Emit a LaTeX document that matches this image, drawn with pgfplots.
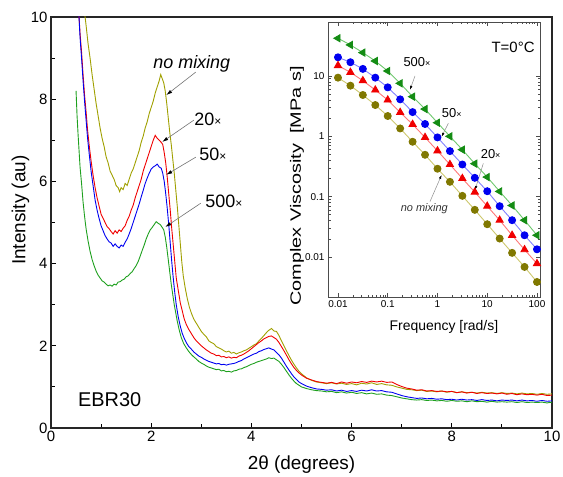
\documentclass[border=0pt]{standalone}
\usepackage{pgfplots}
\pgfplotsset{compat=1.18}
\usepackage{pgfplotstable}
\usepackage{graphicx}
\usepackage{fontspec}
\setmainfont{Liberation Sans}
\usetikzlibrary{arrows.meta}
\definecolor{cOl}{RGB}{160,160,0}
\definecolor{cRe}{RGB}{240,0,0}
\definecolor{cBl}{RGB}{0,0,240}
\definecolor{cGr}{RGB}{30,160,30}
\definecolor{lGr}{RGB}{110,200,110}
\definecolor{lBl}{RGB}{130,130,255}
\definecolor{lRe}{RGB}{255,120,120}
\definecolor{lOl}{RGB}{205,200,110}
\definecolor{mGr}{RGB}{20,140,20}
\definecolor{mOl}{RGB}{128,120,0}
\pgfplotstableread[row sep=\\]{x y\\
0.66 10.2\\ 0.70 9.8\\ 0.74 9.35\\ 0.78 9.0\\ 0.82 8.6\\ 0.86 8.25\\ 0.90 7.9\\ 0.94 7.6\\ 0.98 7.3\\ 1.02 7.05\\
1.06 6.85\\ 1.10 6.6\\ 1.14 6.45\\ 1.18 6.25\\ 1.22 6.15\\ 1.26 6.05\\ 1.30 5.9\\ 1.34 5.85\\ 1.37 5.75\\ 1.40 5.85\\
1.44 5.8\\ 1.48 5.95\\ 1.52 5.9\\ 1.56 6.05\\ 1.60 6.2\\ 1.64 6.3\\ 1.68 6.45\\ 1.72 6.6\\ 1.76 6.75\\ 1.80 6.95\\
1.84 7.1\\ 1.88 7.3\\ 1.92 7.45\\ 1.96 7.65\\ 2.00 7.8\\ 2.04 7.95\\ 2.08 8.15\\ 2.12 8.3\\ 2.16 8.45\\ 2.19 8.6\\
2.22 8.5\\ 2.25 8.4\\ 2.28 8.2\\ 2.31 7.9\\ 2.34 7.55\\ 2.37 7.2\\ 2.40 6.9\\ 2.43 6.55\\ 2.46 6.2\\ 2.49 5.8\\
2.52 5.4\\ 2.55 4.95\\ 2.58 4.5\\ 2.61 4.05\\ 2.64 3.7\\ 2.68 3.4\\ 2.72 3.15\\ 2.76 2.95\\ 2.80 2.8\\ 2.85 2.65\\
2.90 2.55\\ 2.95 2.45\\ 3.00 2.35\\ 3.05 2.28\\ 3.10 2.22\\ 3.15 2.12\\ 3.20 2.08\\ 3.25 2.05\\ 3.30 1.98\\ 3.35 1.95\\
3.40 1.92\\ 3.45 1.88\\ 3.50 1.85\\ 3.55 1.87\\ 3.60 1.82\\ 3.65 1.84\\ 3.70 1.80\\ 3.75 1.83\\ 3.80 1.85\\ 3.85 1.88\\
3.90 1.90\\ 3.95 1.94\\ 4.00 1.98\\ 4.05 2.02\\ 4.10 2.05\\ 4.15 2.12\\ 4.20 2.18\\ 4.25 2.25\\ 4.30 2.32\\ 4.35 2.38\\
4.40 2.42\\ 4.45 2.36\\ 4.50 2.35\\ 4.55 2.25\\ 4.60 2.12\\ 4.65 2.00\\ 4.70 1.88\\ 4.75 1.76\\ 4.80 1.65\\ 4.85 1.55\\
4.90 1.46\\ 4.95 1.38\\ 5.00 1.32\\ 5.10 1.22\\ 5.20 1.16\\ 5.30 1.12\\ 5.40 1.10\\ 5.50 1.08\\ 5.60 1.10\\ 5.70 1.07\\
5.80 1.09\\ 5.90 1.06\\ 6.00 1.08\\ 6.10 1.05\\ 6.20 1.09\\ 6.30 1.07\\ 6.40 1.10\\ 6.50 1.06\\ 6.60 1.08\\ 6.70 1.05\\
6.80 1.04\\ 6.90 1.00\\ 7.00 0.97\\ 7.10 0.94\\ 7.20 0.93\\ 7.30 0.91\\ 7.40 0.92\\ 7.50 0.89\\ 7.60 0.90\\ 7.70 0.88\\
7.80 0.90\\ 7.90 0.87\\ 8.00 0.89\\ 8.10 0.86\\ 8.20 0.88\\ 8.30 0.86\\ 8.40 0.87\\ 8.50 0.85\\ 8.60 0.87\\ 8.70 0.85\\
8.80 0.86\\ 8.90 0.84\\ 9.00 0.86\\ 9.10 0.84\\ 9.20 0.85\\ 9.30 0.83\\ 9.40 0.85\\ 9.50 0.83\\ 9.60 0.84\\ 9.70 0.82\\
9.80 0.84\\ 9.90 0.82\\ 10.0 0.83\\
}\olivedata
\pgfplotstableread[row sep=\\]{x y\\
0.55 10.2\\ 0.58 9.6\\ 0.61 9.15\\ 0.64 8.6\\ 0.67 8.1\\ 0.70 7.7\\ 0.73 7.25\\ 0.76 6.9\\ 0.80 6.5\\ 0.84 6.15\\
0.88 5.85\\ 0.92 5.6\\ 0.96 5.4\\ 1.00 5.2\\ 1.04 5.1\\ 1.08 5.0\\ 1.12 4.9\\ 1.16 4.85\\ 1.20 4.78\\ 1.24 4.72\\
1.28 4.8\\ 1.32 4.74\\ 1.36 4.82\\ 1.40 4.78\\ 1.44 4.86\\ 1.48 4.92\\ 1.52 5.05\\ 1.56 5.15\\ 1.60 5.3\\ 1.64 5.42\\
1.68 5.6\\ 1.72 5.75\\ 1.76 5.9\\ 1.80 6.05\\ 1.84 6.25\\ 1.88 6.4\\ 1.92 6.55\\ 1.96 6.7\\ 2.00 6.85\\ 2.04 7.0\\
2.08 7.12\\ 2.12 7.05\\ 2.16 7.0\\ 2.20 6.95\\ 2.23 6.9\\ 2.26 6.7\\ 2.29 6.45\\ 2.32 6.1\\ 2.35 5.7\\ 2.38 5.3\\
2.41 4.85\\ 2.44 4.45\\ 2.47 4.05\\ 2.50 3.65\\ 2.54 3.35\\ 2.58 3.05\\ 2.62 2.85\\ 2.66 2.65\\ 2.70 2.52\\ 2.75 2.40\\
2.80 2.30\\ 2.85 2.20\\ 2.90 2.12\\ 2.95 2.06\\ 3.00 2.00\\ 3.05 1.95\\ 3.10 1.90\\ 3.15 1.86\\ 3.20 1.82\\ 3.25 1.80\\
3.30 1.76\\ 3.35 1.77\\ 3.40 1.73\\ 3.45 1.74\\ 3.50 1.71\\ 3.55 1.73\\ 3.60 1.70\\ 3.65 1.72\\ 3.70 1.71\\ 3.75 1.75\\
3.80 1.77\\ 3.85 1.80\\ 3.90 1.84\\ 3.95 1.88\\ 4.00 1.93\\ 4.05 1.98\\ 4.10 2.03\\ 4.15 2.08\\ 4.20 2.12\\ 4.25 2.17\\
4.30 2.20\\ 4.35 2.23\\ 4.40 2.24\\ 4.45 2.20\\ 4.50 2.16\\ 4.55 2.08\\ 4.60 1.98\\ 4.65 1.88\\ 4.70 1.77\\ 4.75 1.66\\
4.80 1.56\\ 4.85 1.47\\ 4.90 1.40\\ 4.95 1.34\\ 5.00 1.29\\ 5.10 1.21\\ 5.20 1.17\\ 5.30 1.13\\ 5.40 1.11\\ 5.50 1.09\\
5.60 1.11\\ 5.70 1.08\\ 5.80 1.12\\ 5.90 1.09\\ 6.00 1.12\\ 6.10 1.10\\ 6.20 1.13\\ 6.30 1.11\\ 6.40 1.14\\ 6.50 1.12\\
6.60 1.14\\ 6.70 1.11\\ 6.80 1.12\\ 6.90 1.06\\ 7.00 1.01\\ 7.10 0.97\\ 7.20 0.95\\ 7.30 0.92\\ 7.40 0.93\\ 7.50 0.90\\
7.60 0.91\\ 7.70 0.89\\ 7.80 0.90\\ 7.90 0.88\\ 8.00 0.89\\ 8.10 0.86\\ 8.20 0.88\\ 8.30 0.85\\ 8.40 0.87\\ 8.50 0.84\\
8.60 0.86\\ 8.70 0.84\\ 8.80 0.85\\ 8.90 0.83\\ 9.00 0.85\\ 9.10 0.82\\ 9.20 0.84\\ 9.30 0.81\\ 9.40 0.83\\ 9.50 0.81\\
9.60 0.82\\ 9.70 0.80\\ 9.80 0.82\\ 9.90 0.79\\ 10.0 0.80\\
}\reddata
\pgfplotstableread[row sep=\\]{x y\\
0.55 10.2\\ 0.58 9.5\\ 0.61 9.0\\ 0.64 8.45\\ 0.67 7.95\\ 0.70 7.5\\ 0.73 7.05\\ 0.76 6.7\\ 0.80 6.25\\ 0.84 5.9\\
0.88 5.55\\ 0.92 5.3\\ 0.96 5.1\\ 1.00 4.92\\ 1.04 4.8\\ 1.08 4.68\\ 1.12 4.6\\ 1.16 4.53\\ 1.20 4.5\\ 1.24 4.42\\
1.28 4.48\\ 1.32 4.42\\ 1.36 4.38\\ 1.40 4.45\\ 1.44 4.42\\ 1.48 4.52\\ 1.52 4.6\\ 1.56 4.72\\ 1.60 4.85\\ 1.64 5.0\\
1.68 5.15\\ 1.72 5.3\\ 1.76 5.45\\ 1.80 5.62\\ 1.84 5.78\\ 1.88 5.95\\ 1.92 6.08\\ 1.96 6.2\\ 2.00 6.3\\ 2.04 6.35\\
2.08 6.38\\ 2.12 6.42\\ 2.16 6.35\\ 2.20 6.32\\ 2.23 6.2\\ 2.26 6.0\\ 2.29 5.7\\ 2.32 5.35\\ 2.35 4.95\\ 2.38 4.5\\
2.41 4.05\\ 2.44 3.65\\ 2.47 3.3\\ 2.50 3.0\\ 2.54 2.7\\ 2.58 2.48\\ 2.62 2.30\\ 2.66 2.18\\ 2.70 2.08\\ 2.75 1.98\\
2.80 1.92\\ 2.85 1.85\\ 2.90 1.80\\ 2.95 1.75\\ 3.00 1.72\\ 3.05 1.68\\ 3.10 1.65\\ 3.15 1.62\\ 3.20 1.60\\ 3.25 1.58\\
3.30 1.56\\ 3.35 1.57\\ 3.40 1.54\\ 3.45 1.55\\ 3.50 1.53\\ 3.55 1.55\\ 3.60 1.56\\ 3.65 1.57\\ 3.70 1.59\\ 3.75 1.62\\
3.80 1.64\\ 3.85 1.68\\ 3.90 1.71\\ 3.95 1.74\\ 4.00 1.77\\ 4.05 1.80\\ 4.10 1.82\\ 4.15 1.86\\ 4.20 1.88\\ 4.25 1.91\\
4.30 1.93\\ 4.35 1.95\\ 4.40 1.92\\ 4.45 1.90\\ 4.50 1.84\\ 4.55 1.78\\ 4.60 1.70\\ 4.65 1.60\\ 4.70 1.50\\ 4.75 1.41\\
4.80 1.32\\ 4.85 1.24\\ 4.90 1.18\\ 4.95 1.12\\ 5.00 1.08\\ 5.10 1.02\\ 5.20 0.98\\ 5.30 0.95\\ 5.40 0.94\\ 5.50 0.92\\
5.60 0.93\\ 5.70 0.90\\ 5.80 0.92\\ 5.90 0.89\\ 6.00 0.91\\ 6.10 0.89\\ 6.20 0.92\\ 6.30 0.90\\ 6.40 0.93\\ 6.50 0.90\\
6.60 0.91\\ 6.70 0.88\\ 6.80 0.87\\ 6.90 0.83\\ 7.00 0.79\\ 7.10 0.76\\ 7.20 0.74\\ 7.30 0.72\\ 7.40 0.73\\ 7.50 0.71\\
7.60 0.72\\ 7.70 0.70\\ 7.80 0.71\\ 7.90 0.69\\ 8.00 0.70\\ 8.10 0.68\\ 8.20 0.70\\ 8.30 0.68\\ 8.40 0.69\\ 8.50 0.67\\
8.60 0.69\\ 8.70 0.67\\ 8.80 0.68\\ 8.90 0.66\\ 9.00 0.68\\ 9.10 0.67\\ 9.20 0.68\\ 9.30 0.66\\ 9.40 0.68\\ 9.50 0.66\\
9.60 0.67\\ 9.70 0.65\\ 9.80 0.67\\ 9.90 0.65\\ 10.0 0.66\\
}\bluedata
\pgfplotstableread[row sep=\\]{x y\\
0.50 8.2\\ 0.52 7.6\\ 0.54 7.15\\ 0.56 6.75\\ 0.58 6.35\\ 0.61 5.95\\ 0.64 5.5\\ 0.67 5.15\\ 0.70 4.85\\ 0.74 4.55\\
0.78 4.3\\ 0.82 4.1\\ 0.86 3.95\\ 0.90 3.82\\ 0.94 3.72\\ 0.98 3.65\\ 1.02 3.58\\ 1.06 3.55\\ 1.10 3.50\\ 1.14 3.46\\
1.18 3.48\\ 1.22 3.45\\ 1.26 3.5\\ 1.30 3.48\\ 1.34 3.55\\ 1.38 3.56\\ 1.42 3.6\\ 1.46 3.62\\ 1.50 3.68\\ 1.54 3.7\\
1.58 3.76\\ 1.62 3.8\\ 1.66 3.88\\ 1.70 3.95\\ 1.74 4.05\\ 1.78 4.18\\ 1.82 4.32\\ 1.86 4.45\\ 1.90 4.6\\ 1.94 4.72\\
1.98 4.82\\ 2.02 4.88\\ 2.06 4.95\\ 2.10 5.02\\ 2.14 4.98\\ 2.18 4.95\\ 2.22 4.88\\ 2.25 4.82\\ 2.28 4.65\\ 2.31 4.4\\
2.34 4.1\\ 2.37 3.8\\ 2.40 3.5\\ 2.43 3.25\\ 2.46 3.0\\ 2.49 2.8\\ 2.52 2.6\\ 2.56 2.38\\ 2.60 2.2\\ 2.65 2.05\\
2.70 1.95\\ 2.75 1.86\\ 2.80 1.79\\ 2.85 1.73\\ 2.90 1.68\\ 2.95 1.62\\ 3.00 1.58\\ 3.05 1.55\\ 3.10 1.51\\ 3.15 1.48\\
3.20 1.46\\ 3.25 1.44\\ 3.30 1.42\\ 3.35 1.43\\ 3.40 1.39\\ 3.45 1.40\\ 3.50 1.37\\ 3.55 1.38\\ 3.60 1.36\\ 3.65 1.39\\
3.70 1.40\\ 3.75 1.43\\ 3.80 1.44\\ 3.85 1.47\\ 3.90 1.49\\ 3.95 1.52\\ 4.00 1.55\\ 4.05 1.57\\ 4.10 1.60\\ 4.15 1.62\\
4.20 1.64\\ 4.25 1.66\\ 4.30 1.68\\ 4.35 1.71\\ 4.40 1.69\\ 4.45 1.70\\ 4.50 1.66\\ 4.55 1.62\\ 4.60 1.55\\ 4.65 1.47\\
4.70 1.38\\ 4.75 1.29\\ 4.80 1.21\\ 4.85 1.14\\ 4.90 1.08\\ 4.95 1.04\\ 5.00 1.00\\ 5.10 0.96\\ 5.20 0.93\\ 5.30 0.91\\
5.40 0.90\\ 5.50 0.88\\ 5.60 0.89\\ 5.70 0.86\\ 5.80 0.88\\ 5.90 0.85\\ 6.00 0.87\\ 6.10 0.84\\ 6.20 0.86\\ 6.30 0.83\\
6.40 0.85\\ 6.50 0.82\\ 6.60 0.83\\ 6.70 0.80\\ 6.80 0.79\\ 6.90 0.76\\ 7.00 0.73\\ 7.10 0.71\\ 7.20 0.69\\ 7.30 0.68\\
7.40 0.69\\ 7.50 0.67\\ 7.60 0.68\\ 7.70 0.66\\ 7.80 0.67\\ 7.90 0.65\\ 8.00 0.67\\ 8.10 0.65\\ 8.20 0.66\\ 8.30 0.64\\
8.40 0.66\\ 8.50 0.64\\ 8.60 0.65\\ 8.70 0.63\\ 8.80 0.65\\ 8.90 0.63\\ 9.00 0.64\\ 9.10 0.63\\ 9.20 0.64\\ 9.30 0.62\\
9.40 0.64\\ 9.50 0.62\\ 9.60 0.63\\ 9.70 0.62\\ 9.80 0.63\\ 9.90 0.61\\ 10.0 0.63\\
}\greendata
\pgfplotstableread[row sep=\\]{f gr bl re ol\\
0.01 42.2 20.4 14.9 9.38\\
0.01778 32.7 16.9 11.5 6.91\\
0.03162 24.4 13.1 8.37 4.84\\
0.05623 17.7 9.38 5.86 3.30\\
0.1 12.1 6.48 4.00 2.17\\
0.1778 7.56 4.10 2.49 1.35\\
0.3162 4.54 2.52 1.58 0.812\\
0.5623 2.83 1.60 0.959 0.494\\
1 1.68 0.959 0.575 0.290\\
1.778 1.00 0.569 0.341 0.176\\
3.162 0.60 0.341 0.200 0.103\\
5.623 0.352 0.205 0.119 0.0604\\
10 0.211 0.123 0.0695 0.0349\\
17.78 0.122 0.0695 0.0407 0.0202\\
31.62 0.0714 0.0407 0.0229 0.0117\\
56.23 0.0407 0.0229 0.0132 0.00684\\
100 0.0229 0.0134 0.00776 0.00385\\
}\viscdata
\newcommand{\tms}{{\fontsize{12}{12}\selectfont ×}}
\newcommand{\tmss}{{\fontsize{9}{9}\selectfont ×}}
\begin{document}
\begin{tikzpicture}
\path[use as bounding box] (0,0) rectangle (563bp,477bp);
\begin{axis}[
  at={(51bp,49bp)}, anchor=south west,
  scale only axis, width=501bp, height=411bp,
  xmin=0, xmax=10, ymin=0, ymax=10,
  xtick={0,2,...,10}, ytick={0,2,...,10},
  minor x tick num=1, minor y tick num=1,
  tick pos=left, tick align=inside,
  major tick length=5bp, minor tick length=4bp,
  tick style={black, line width=0.9bp},
  axis line style={line width=1.2bp, black!85},
  /pgf/number format/assume math mode=true,
  ticklabel style={font=\fontsize{15}{15}\selectfont},
  xlabel={2θ (degrees)}, ylabel={Intensity (au)},
  label style={font=\fontsize{19}{19}\selectfont},
  xlabel style={at={(axis description cs:0.5,-0.09)}, anchor=center},
  ylabel style={at={(axis description cs:-0.061,0.53)}, anchor=center},
  clip=true,
]
\addplot[cOl, line width=0.9bp] table[x=x,y=y] {\olivedata};
\addplot[cRe, line width=0.9bp] table[x=x,y=y] {\reddata};
\addplot[cBl, line width=0.9bp] table[x=x,y=y] {\bluedata};
\addplot[cGr, line width=0.9bp] table[x=x,y=y] {\greendata};
\node[font=\fontsize{20}{20}\selectfont] at (axis cs:1.17,0.68) {EBR30};
\node[font=\fontsize{18}{18}\selectfont\itshape] at (axis cs:2.81,8.86) {no mixing};
\node[font=\fontsize{18}{18}\selectfont] at (axis cs:3.13,7.52) {20\tms};
\node[font=\fontsize{18}{18}\selectfont] at (axis cs:3.23,6.67) {50\tms};
\node[font=\fontsize{18}{18}\selectfont] at (axis cs:3.45,5.52) {500\tms};
\draw[black!55, line width=0.6bp, -{Latex[black,length=6bp,width=3.5bp]}] (axis cs:2.89,8.66) -- (axis cs:2.30,8.10);
\draw[black!55, line width=0.6bp, -{Latex[black,length=6bp,width=3.5bp]}] (axis cs:2.85,7.49) -- (axis cs:2.22,6.96);
\draw[black!55, line width=0.6bp, -{Latex[black,length=6bp,width=3.5bp]}] (axis cs:2.89,6.59) -- (axis cs:2.30,6.16);
\draw[black!55, line width=0.6bp, -{Latex[black,length=6bp,width=3.5bp]}] (axis cs:2.99,5.47) -- (axis cs:2.28,4.89);
\end{axis}
\begin{axis}[
  at={(328bp,180bp)}, anchor=south west,
  scale only axis, width=212bp, height=275bp,
  xmode=log, ymode=log,
  xmin=0.0063, xmax=115, ymin=0.00217, ymax=78.5,
  xtick={0.01,0.1,1,10,100}, xticklabels={0.01,0.1,1,10,100},
  ytick={0.01,0.1,1,10}, yticklabels={0.01,0.1,1,10},
  tick align=inside,
  major tick length=4bp, minor tick length=2.5bp,
  tick style={black!70, line width=0.6bp},
  axis line style={line width=0.9bp, black!70},
  ticklabel style={font=\fontsize{10}{10}\selectfont},
  xlabel={Frequency [rad/s]},
  ylabel={\scalebox{1.33}[1]{Complex Viscosity\enspace[MPa s]}},
  xlabel style={font=\fontsize{14}{14}\selectfont, at={(axis description cs:0.547,-0.109)}, anchor=center},
  ylabel style={font=\fontsize{15}{15}\selectfont, at={(axis description cs:-0.146,0.404)}, anchor=center},
]
\addplot[lGr, line width=0.9bp, mark=triangle*, mark size=4.1bp, mark options={mGr, fill=mGr, rotate=90}] table[x=f,y=gr] {\viscdata};
\addplot[lBl, line width=0.9bp, mark=*, mark size=3.5bp, mark options={cBl, fill=cBl}] table[x=f,y=bl] {\viscdata};
\addplot[lRe, line width=0.9bp, mark=triangle*, mark size=4.1bp, mark options={cRe, fill=cRe}] table[x=f,y=re] {\viscdata};
\addplot[lOl, line width=0.9bp, mark=*, mark size=3.5bp, mark options={mOl, fill=mOl}] table[x=f,y=ol] {\viscdata};
\node[font=\fontsize{15}{15}\selectfont] at (axis description cs:0.873,0.909) {T=0°C};
\node[font=\fontsize{13}{13}\selectfont] at (axis cs:0.387,17.1) {500\tmss};
\node[font=\fontsize{13}{13}\selectfont] at (axis cs:1.93,2.41) {50\tmss};
\node[font=\fontsize{13}{13}\selectfont] at (axis cs:11.7,0.509) {20\tmss};
\node[font=\fontsize{11}{11}\selectfont\itshape, black!80] at (axis cs:0.543,0.0624) {no mixing};
\draw[black!45, line width=0.5bp, -{Latex[black,length=4bp,width=2.5bp]}] (axis cs:0.353,10) -- (axis cs:0.28,5.9);
\draw[black!45, line width=0.5bp, -{Latex[black,length=4bp,width=2.5bp]}] (axis cs:1.65,1.64) -- (axis cs:1.21,0.985);
\draw[black!45, line width=0.5bp, -{Latex[black,length=4bp,width=2.5bp]}] (axis cs:8.34,0.356) -- (axis cs:5.68,0.129);
\draw[black!45, line width=0.5bp, -{Latex[black,length=4bp,width=2.5bp]}] (axis cs:0.706,0.0826) -- (axis cs:1.21,0.229);
\end{axis}
\end{tikzpicture}
\end{document}
